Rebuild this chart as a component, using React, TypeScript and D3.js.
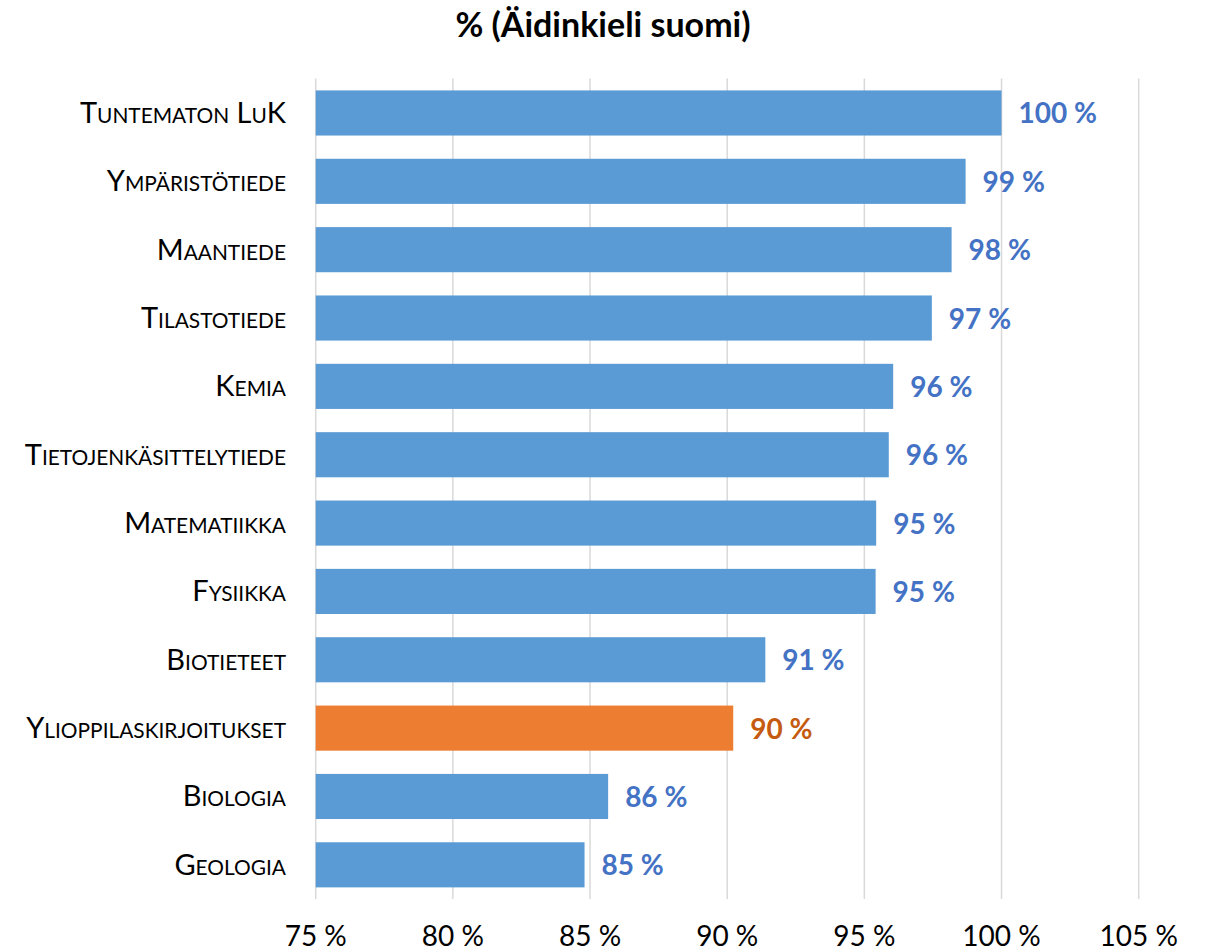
import React from "react";
import * as d3 from "d3";

const categories = [
  "Tuntematon LuK",
  "Ympäristötiede",
  "Maantiede",
  "Tilastotiede",
  "Kemia",
  "Tietojenkäsittelytiede",
  "Matematiikka",
  "Fysiikka",
  "Biotieteet",
  "Ylioppilaskirjoitukset",
  "Biologia",
  "Geologia",
];
const values = [100.0, 98.69, 98.18, 97.46, 96.05, 95.89, 95.43, 95.41, 91.39, 90.22, 85.66, 84.8];
const highlighted = ["Ylioppilaskirjoitukset"];
const xTicks = [75, 80, 85, 90, 95, 100, 105];
const title = "% (Äidinkieli suomi)";

const W = 1208;
const H = 952;
const FONT = "Lato, 'Open Sans', sans-serif";

function SmallCaps({ text, x, y, size }: { text: string; x: number; y: number; size: number }) {
  const runs: { t: string; small: boolean }[] = [];
  for (const ch of text) {
    const small = ch !== ch.toUpperCase();
    const last = runs[runs.length - 1];
    if (last && last.small === small) last.t += ch;
    else runs.push({ t: ch, small });
  }
  return (
    <text x={x} y={y} textAnchor="end" fontFamily={FONT} fill="#000">
      {runs.map((r, i) => (
        <tspan key={i} fontSize={r.small ? size * 0.72 : size}>
          {r.t.toUpperCase()}
        </tspan>
      ))}
    </text>
  );
}

export default function App() {
  const x = d3.scaleLinear().domain([75, 105]).range([315.7, 1138.7]);
  const y = d3.scaleBand<string>().domain(categories).range([78.8, 899]).paddingInner(0.34).paddingOuter(0.17);
  const bw = y.bandwidth();

  return (
    <svg width={W} height={H} style={{ display: "block", position: "absolute", left: 0, top: 0 }}>
      <rect width={W} height={H} fill="#fff" />
      <text x={603} y={37} textAnchor="middle" fontFamily={FONT} fontWeight={700} fontSize={34} fill="#000">
        {title}
      </text>
      {xTicks.map((t) => (
        <g key={t}>
          <line x1={x(t)} x2={x(t)} y1={78.5} y2={899} stroke="#d9d9d9" strokeWidth={1.5} />
          <text x={x(t)} y={946} textAnchor="middle" fontFamily={FONT} fontSize={28} fill="#000">
            {`${t} %`}
          </text>
        </g>
      ))}
      {categories.map((c, i) => {
        const v = values[i];
        const hi = highlighted.includes(c);
        const yy = y(c)!;
        return (
          <g key={c}>
            <rect
              x={x(75)}
              y={yy}
              width={x(v) - x(75)}
              height={bw}
              fill={hi ? "#ED7D31" : "#5B9BD5"}
            />
            <text
              x={x(v) + 17}
              y={yy + bw / 2 + 10.5}
              fontFamily={FONT}
              fontWeight={700}
              fontSize={28}
              fill={hi ? "#C55A11" : "#4472C4"}
            >
              {`${Math.round(v)} %`}
            </text>
            <SmallCaps text={c} x={286} y={yy + bw / 2 + 10} size={29} />
          </g>
        );
      })}
    </svg>
  );
}
